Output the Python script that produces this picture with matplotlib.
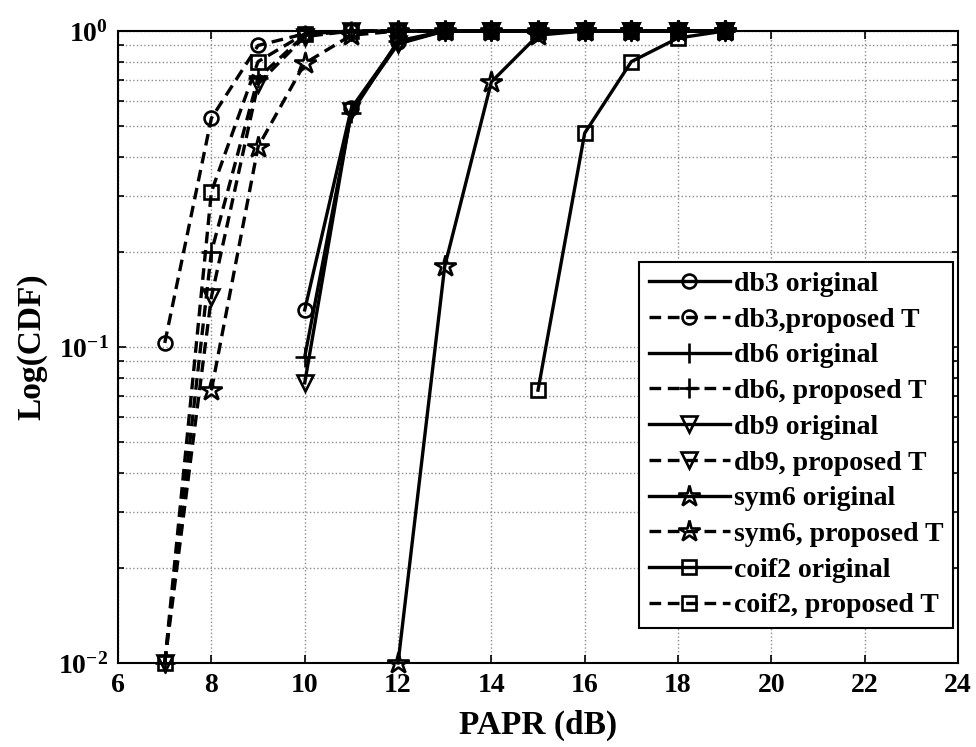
import numpy as np
import matplotlib
matplotlib.use("Agg")
import matplotlib.pyplot as plt
from matplotlib.ticker import FixedLocator, LogLocator, NullFormatter

plt.rcParams["font.family"] = "Liberation Serif"
plt.rcParams["font.weight"] = "bold"
plt.rcParams["mathtext.fontset"] = "custom"
plt.rcParams["mathtext.rm"] = "Liberation Serif:bold"
plt.rcParams["mathtext.bf"] = "Liberation Serif:bold"
plt.rcParams["mathtext.it"] = "Liberation Serif:bold:italic"

# PAPR thresholds (dB) and CDF values per wavelet
db3_orig_x = [10, 11, 12, 13, 14, 15, 16, 17, 18, 19]
db3_orig_y = [0.131, 0.57, 0.92, 1.0, 1.0, 1.0, 1.0, 1.0, 1.0, 1.0]
db3_prop_x = [7, 8, 9, 10, 11, 12, 13, 14, 15, 16, 17, 18, 19]
db3_prop_y = [0.103, 0.53, 0.90, 0.98, 1.0, 1.0, 1.0, 1.0, 1.0, 1.0, 1.0, 1.0, 1.0]

db6_orig_x = [10, 11, 12, 13, 14, 15, 16, 17, 18, 19]
db6_orig_y = [0.093, 0.55, 0.93, 1.0, 1.0, 1.0, 1.0, 1.0, 1.0, 1.0]
db6_prop_x = [7, 8, 9, 10, 11, 12, 13, 14, 15, 16, 17, 18, 19]
db6_prop_y = [0.01, 0.20, 0.71, 0.97, 1.0, 1.0, 1.0, 1.0, 1.0, 1.0, 1.0, 1.0, 1.0]

db9_orig_x = [10, 11, 12, 13, 14, 15, 16, 17, 18, 19]
db9_orig_y = [0.077, 0.56, 0.91, 1.0, 1.0, 1.0, 1.0, 1.0, 1.0, 1.0]
db9_prop_x = [7, 8, 9, 10, 11, 12, 13, 14, 15, 16, 17, 18, 19]
db9_prop_y = [0.01, 0.144, 0.68, 0.96, 1.0, 1.0, 1.0, 1.0, 1.0, 1.0, 1.0, 1.0, 1.0]

sym6_orig_x = [12, 13, 14, 15, 16, 17, 18, 19]
sym6_orig_y = [0.01, 0.18, 0.69, 0.97, 1.0, 1.0, 1.0, 1.0]
sym6_prop_x = [8, 9, 10, 11, 12, 13, 14, 15, 16, 17, 18, 19]
sym6_prop_y = [0.073, 0.43, 0.79, 0.97, 1.0, 1.0, 1.0, 1.0, 1.0, 1.0, 1.0, 1.0]

coif2_orig_x = [15, 16, 17, 18, 19]
coif2_orig_y = [0.073, 0.475, 0.80, 0.95, 1.0]
coif2_prop_x = [7, 8, 9, 10, 11, 12, 13, 14, 15, 16, 17, 18, 19]
coif2_prop_y = [0.01, 0.31, 0.80, 0.98, 1.0, 1.0, 1.0, 1.0, 1.0, 1.0, 1.0, 1.0, 1.0]

x_ticks = [6, 8, 10, 12, 14, 16, 18, 20, 22, 24]

series = [
    (db3_orig_x, db3_orig_y, "-", "o", 10, "db3 original"),
    (db3_prop_x, db3_prop_y, "--", "o", 10, "db3,proposed T"),
    (db6_orig_x, db6_orig_y, "-", "+", 14, "db6 original"),
    (db6_prop_x, db6_prop_y, "--", "+", 14, "db6, proposed T"),
    (db9_orig_x, db9_orig_y, "-", "v", 11, "db9 original"),
    (db9_prop_x, db9_prop_y, "--", "v", 11, "db9, proposed T"),
    (sym6_orig_x, sym6_orig_y, "-", "*", 16, "sym6 original"),
    (sym6_prop_x, sym6_prop_y, "--", "*", 16, "sym6, proposed T"),
    (coif2_orig_x, coif2_orig_y, "-", "s", 10, "coif2 original"),
    (coif2_prop_x, coif2_prop_y, "--", "s", 10, "coif2, proposed T"),
]

fig = plt.figure(figsize=(9.76, 7.47), dpi=100)
ax = fig.add_axes([0.121, 0.1125, 0.8605, 0.846])

for xs, ys, ls, mk, ms, lab in series:
    ax.plot(xs, ys, linestyle=ls, dashes=(3.5, 2.0) if ls == "--" else (None, None),
            color="black", linewidth=2.4,
            marker=mk, markersize=ms, markerfacecolor="none",
            markeredgecolor="black", markeredgewidth=1.9,
            label=lab, clip_on=False, zorder=3)

ax.set_yscale("log")
ax.set_xlim(6, 24)
ax.set_ylim(0.01, 1)

ax.xaxis.set_major_locator(FixedLocator(x_ticks))
ax.set_xticklabels([str(t) for t in x_ticks])
ax.set_yticks([0.01, 0.1, 1])
ax.set_yticklabels([r"$\mathbf{10^{-2}}$", r"$\mathbf{10^{-1}}$", r"$\mathbf{10^{0}}$"])
ax.yaxis.set_minor_locator(LogLocator(base=10, subs=np.arange(2, 10)))
ax.yaxis.set_minor_formatter(NullFormatter())

ax.tick_params(which="both", direction="in", top=True, right=True,
               labelsize=20, width=1.2)
ax.tick_params(which="major", length=6, pad=7)
ax.tick_params(which="minor", length=4)

ax.grid(True, which="major", axis="x", linestyle=":", color="#8c8c8c", linewidth=1.0)
ax.grid(True, which="both", axis="y", linestyle=":", color="#8c8c8c", linewidth=1.0)
ax.set_axisbelow(True)

for sp in ax.spines.values():
    sp.set_linewidth(1.5)

ax.set_xlabel("PAPR (dB)", fontsize=24, fontweight="bold", labelpad=9)
ax.set_ylabel("Log(CDF)", fontsize=24, fontweight="bold", labelpad=8)

leg = ax.legend(loc="lower right", bbox_to_anchor=(0.994, 0.055),
                borderaxespad=0, fontsize=20, handlelength=2.9,
                labelspacing=0.37, handletextpad=0.15, borderpad=0.35,
                fancybox=False, framealpha=1, edgecolor="black")
leg.get_frame().set_linewidth(1.5)

fig.savefig("out.png", dpi=100)
